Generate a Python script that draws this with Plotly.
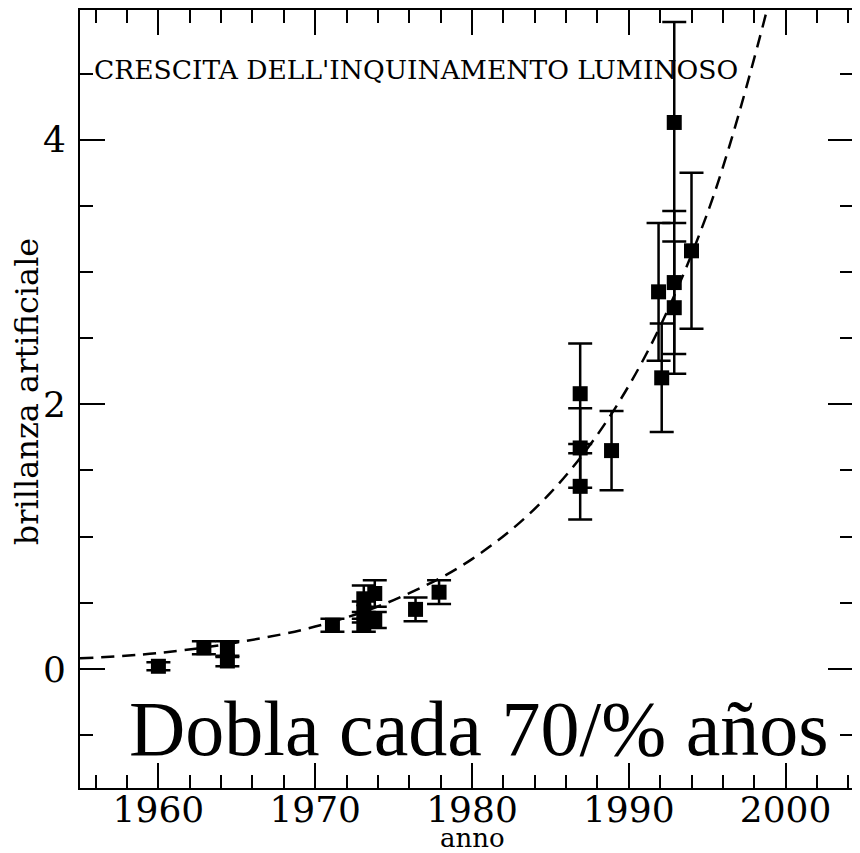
import plotly.graph_objects as go

# Observed data (year, artificial brightness, error)
years = [1960.0, 1962.9, 1964.4, 1964.4, 1971.1, 1973.1, 1973.1, 1973.1, 1973.8, 1973.8,
         1976.4, 1977.9, 1986.9, 1986.9, 1986.9, 1988.9, 1991.9, 1992.1, 1992.9, 1992.9,
         1992.9, 1994.0]
values = [0.02, 0.16, 0.15, 0.06, 0.33, 0.53, 0.43, 0.33, 0.57, 0.37,
          0.45, 0.58, 2.08, 1.67, 1.38, 1.65, 2.85, 2.20, 4.13, 2.92,
          2.73, 3.16]
errors = [0.03, 0.05, 0.06, 0.04, 0.05, 0.10, 0.08, 0.05, 0.10, 0.06,
          0.09, 0.09, 0.38, 0.30, 0.25, 0.30, 0.52, 0.41, 0.76, 0.54,
          0.50, 0.59]

# Dashed fit curve
fit_years = [1955, 1960, 1965, 1970, 1975, 1980, 1985, 1990, 1995, 1999.5]
fit_values = [0.08, 0.12, 0.20, 0.32, 0.52, 0.83, 1.33, 2.14, 3.44, 5.3]

x_range = [1955, 2004.3]
y_range = [-0.9, 4.98]

title_text = "CRESCITA DELL'INQUINAMENTO LUMINOSO"
big_text = "Dobla cada 70/% años"
x_title = "anno"
y_title = "brillanza artificiale"

SERIF = "DejaVu Serif"

fig = go.Figure()
fig.add_trace(go.Scatter(
    x=fit_years, y=fit_values, mode="lines",
    line=dict(color="black", width=2.5, dash="13px,8px", shape="spline"),
    hoverinfo="skip", showlegend=False))
fig.add_trace(go.Scatter(
    x=years, y=values, mode="markers",
    marker=dict(symbol="square", size=15, color="black"),
    error_y=dict(type="data", array=errors, visible=True, color="black",
                 thickness=2.5, width=12),
    showlegend=False))

axis_common = dict(
    showgrid=False, zeroline=False, showline=True, linewidth=2, linecolor="black",
    mirror="allticks", ticks="inside", ticklen=25, tickwidth=2, tickcolor="black",
    tickfont=dict(family=SERIF, size=36, color="black"), automargin=False,
)

fig.update_xaxes(range=x_range, tick0=1960, dtick=10,
                 minor=dict(dtick=2, ticks="inside", ticklen=13, tickwidth=2, tickcolor="black"),
                 ticklabelstandoff=-11, **axis_common)
fig.update_yaxes(range=y_range, tick0=0, dtick=2,
                 minor=dict(dtick=0.5, ticks="inside", ticklen=13, tickwidth=2, tickcolor="black"),
                 ticklabelstandoff=5, **axis_common)

# page body has an 8px default margin, so the figure is 852x845
fig.update_layout(
    width=852, height=845,
    margin=dict(l=72, r=7, t=2, b=65),
    paper_bgcolor="white", plot_bgcolor="white",
    annotations=[
        dict(text=title_text, xref="paper", yref="paper", x=0.0155, y=0.923,
             xanchor="left", yanchor="middle", showarrow=False,
             font=dict(family=SERIF, size=26.5, color="black")),
        dict(text=big_text, xref="paper", yref="paper", x=0.516, y=0.0186,
             xanchor="center", yanchor="bottom", showarrow=False,
             font=dict(family="Liberation Serif", size=78, color="black")),
        dict(text=x_title, xref="paper", yref="paper", x=0.508, y=-0.0645,
             xanchor="center", yanchor="middle", showarrow=False,
             font=dict(family=SERIF, size=26, color="black")),
        dict(text=y_title, xref="paper", yref="paper", x=-0.0686, y=0.51,
             xanchor="center", yanchor="middle", showarrow=False, textangle=-90,
             font=dict(family=SERIF, size=32, color="black")),
    ],
)

fig.write_html("out.html")
